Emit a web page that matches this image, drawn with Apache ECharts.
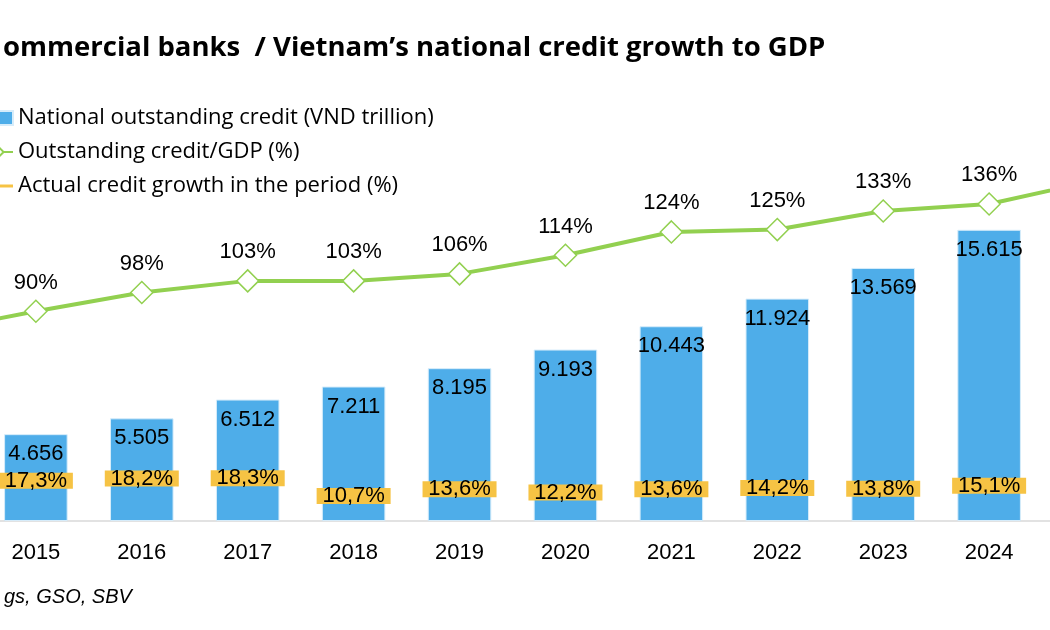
<!DOCTYPE html>
<html>
<head>
<meta charset="utf-8">
<script src="https://cdn.jsdelivr.net/npm/echarts@6/dist/echarts.min.js"></script>
<style>
  html, body { margin: 0; padding: 0; background: #fff; }
  #chart { width: 1050px; height: 630px; }
</style>
</head>
<body>
<div id="chart"></div>
<script>
// 2014 and 2025 sit just outside the visible frame (the picture is cropped),
// their values are estimated from where the line leaves the image.
var years = ['2014', '2015', '2016', '2017', '2018', '2019', '2020', '2021', '2022', '2023', '2024', '2025'];
var outstandingCredit = [3969, 4656, 5505, 6512, 7211, 8195, 9193, 10443, 11924, 13569, 15615, 18400];
var creditToGdp = [81, 90, 98, 103, 103, 106, 114, 124, 125, 133, 136, 146];
var creditGrowth = [14.2, 17.3, 18.2, 18.3, 10.7, 13.6, 12.2, 13.6, 14.2, 13.8, 15.1, 17.8];

var NUM_FONT = '"Liberation Sans", Arial, sans-serif';
var TEXT_FONT = '"Open Sans", "Liberation Sans", sans-serif';

function fmtThousands(v) {
    return String(v).replace(/\B(?=(\d{3})+(?!\d))/g, '.');
}

var chart = echarts.init(document.getElementById('chart'), null, { renderer: 'canvas' });

chart.setOption({
    animation: false,
    backgroundColor: '#fff',
    textStyle: { fontFamily: NUM_FONT, color: '#000' },
    title: [{
        text: 'ommercial banks  / Vietnam\u2019s national credit growth to GDP',
        left: -2,
        top: 29,
        textStyle: { fontFamily: TEXT_FONT, fontSize: 27.5, fontWeight: 'bold', color: '#000' }
    }, {
        text: 'gs, GSO, SBV',
        left: -1,
        top: 582,
        textStyle: { fontFamily: NUM_FONT, fontSize: 20, fontStyle: 'italic', fontWeight: 'normal', color: '#000' }
    }],
    legend: {
        orient: 'vertical',
        left: -23,
        top: 102,
        itemWidth: 30,
        itemHeight: 14,
        itemGap: 12,
        textStyle: { fontFamily: TEXT_FONT, fontSize: 22, color: '#000' },
        data: [
            { name: 'National outstanding credit (VND trillion)', icon: 'rect' },
            { name: 'Outstanding credit/GDP (%)' },
            { name: 'Actual credit growth in the period (%)', icon: 'path://M0,6H30V9H0Z' }
        ]
    },
    grid: { left: -123, right: -98, top: 148, bottom: 109, outerBoundsMode: 'none' },
    xAxis: {
        type: 'category',
        data: years,
        axisLine: { lineStyle: { color: '#d9d9d9', width: 1.5 } },
        axisTick: { show: false },
        axisLabel: { fontFamily: NUM_FONT, fontSize: 22, color: '#000', margin: 21 }
    },
    yAxis: [{
        type: 'value', min: 0, max: 20000, show: false, splitLine: { show: false }
    }, {
        type: 'value', min: 0, max: 160, show: false, splitLine: { show: false }
    }],
    series: [{
        name: 'National outstanding credit (VND trillion)',
        type: 'bar',
        data: outstandingCredit,
        barWidth: '60%',
        itemStyle: { color: '#4eade9', borderColor: '#d6ecfa', borderWidth: 1 },
        label: {
            show: true,
            position: 'insideTop',
            distance: 9,
            fontFamily: NUM_FONT,
            fontSize: 22,
            color: '#000',
            formatter: function (p) { return fmtThousands(p.value); }
        },
        z: 1
    }, {
        name: 'Outstanding credit/GDP (%)',
        type: 'line',
        yAxisIndex: 1,
        data: creditToGdp,
        symbol: 'diamond',
        symbolSize: 22,
        itemStyle: { color: '#fff', borderColor: '#92d050', borderWidth: 1.5 },
        lineStyle: { color: '#92d050', width: 4 },
        label: {
            show: true,
            position: 'top',
            distance: 6,
            fontFamily: NUM_FONT,
            fontSize: 22,
            color: '#000',
            formatter: '{c}%'
        },
        z: 3
    }, {
        name: 'Actual credit growth in the period (%)',
        type: 'line',
        yAxisIndex: 1,
        data: creditGrowth,
        symbol: 'rect',
        symbolSize: [74, 16],
        itemStyle: { color: '#f6c344' },
        lineStyle: { width: 0, opacity: 0 },
        label: {
            show: true,
            position: 'inside',
            fontFamily: NUM_FONT,
            fontSize: 22,
            color: '#000',
            formatter: function (p) { return p.value.toFixed(1).replace('.', ',') + '%'; }
        },
        z: 2
    }]
});
</script>
</body>
</html>
